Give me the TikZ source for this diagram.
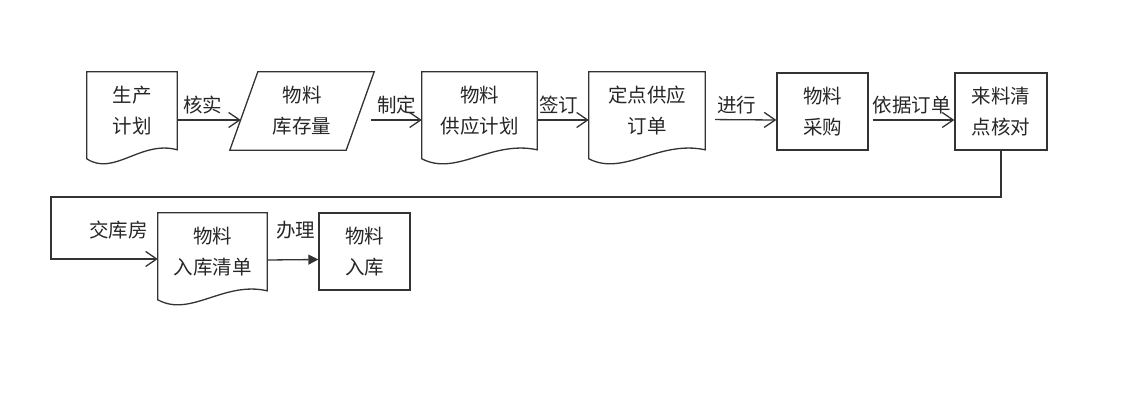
\documentclass[tikz,border=0pt]{standalone}
\usepackage{fontspec}
\newfontfamily\cjk{Noto Sans CJK SC}
\usetikzlibrary{calc,arrows.meta}
\tikzset{
  x=1pt, y=-1pt,
  base/.style={font=\cjk\fontsize{19.5}{31}\selectfont, align=center, inner sep=0pt, minimum height=78pt, text=black!85},
  boxnode/.style={base, draw=black!80, line width=1.3pt},
  docnode/.style={base},
  line/.style={line width=1.3pt, draw=black!80},
  arr/.style={line, -{Straight Barb[length=11pt,width=15pt,line width=1.3pt]}},
  farr/.style={line, -{Triangle[length=10pt,width=10pt]}},
  lab/.style={font=\cjk\fontsize{19.5}{22}\selectfont, inner sep=0pt, text=black!85, yshift=15pt}
}
\newcommand\docoutline[1]{\draw[line] (#1.north west) -- (#1.north east) -- ($(#1.north east)+(0,78)$) .. controls ($(#1.north west)!0.6!(#1.north east)+(0,68)$) and ($(#1.north west)!0.3!(#1.north east)+(0,105)$) .. ($(#1.north west)+(0,87)$) -- cycle;}
\begin{document}
\begin{tikzpicture}
\useasboundingbox (0,0) rectangle (1121,403);
% row 1
\node[docnode, minimum width=90pt] (n1) at (132,111) {生产\\计划};
\docoutline{n1}
\node[base, minimum width=116pt] (n2) at (302,111) {物料\\库存量};
\draw[line] ($(n2.north west)+(14,0)$) -- ($(n2.north east)+(14,0)$) -- ($(n2.south east)+(-14,0)$) -- ($(n2.south west)+(-14,0)$) -- cycle;
\node[docnode, minimum width=115pt] (n3) at (479.5,111) {物料\\供应计划};
\docoutline{n3}
\node[docnode, minimum width=116pt] (n4) at (647,111) {定点供应\\订单};
\docoutline{n4}
\node[boxnode, minimum width=91pt, minimum height=77pt] (n5) at (822.5,111.5) {物料\\采购};
\node[boxnode, minimum width=92pt, minimum height=77pt] (n6) at (1001,111.5) {来料清\\点核对};
% row 2
\node[docnode, minimum width=109pt] (n7) at (212.5,252) {物料\\入库清单};
\docoutline{n7}
\node[boxnode, minimum width=91pt, minimum height=77pt] (n8) at (364.5,251.5) {物料\\入库};
% connectors
\draw[arr] ([yshift=-9pt]n1.east) -- node[lab, pos=0.4] (l1) {核实} ([yshift=-9pt,xshift=-3pt]n2.west);
\draw[arr] ([yshift=-9pt,xshift=11pt]n2.east) -- node[lab, pos=0.5] (l2) {制定} ([yshift=-9pt]n3.west);
\draw[arr] ([yshift=-9pt]n3.east) -- node[lab, pos=0.42] (l3) {签订} ([yshift=-9pt]n4.west);
\draw[arr, shorten <=10pt] ([yshift=-8.5pt]n4.east) -- node[lab, pos=0.44] (l4) {进行} ([yshift=-8.5pt]n5.west);
\draw[arr, shorten <=4pt] ([yshift=-8.5pt]n5.east) -- node[lab, pos=0.5] (l5) {依据订单} ([yshift=-8.5pt]n6.west);
\coordinate (c1) at (51,197);
\coordinate (c2) at (51,259);
\draw[arr] (n6.south) |- (c1) -- (c2) -- node[lab, yshift=14pt, pos=0.63] (l6) {交库房} ([yshift=-7pt]n7.west);
\draw[farr] ([yshift=-8pt]n7.east) -- node[lab, yshift=15pt, pos=0.56] (l7) {办理} ([yshift=-8pt]n8.west);
\end{tikzpicture}
\end{document}
